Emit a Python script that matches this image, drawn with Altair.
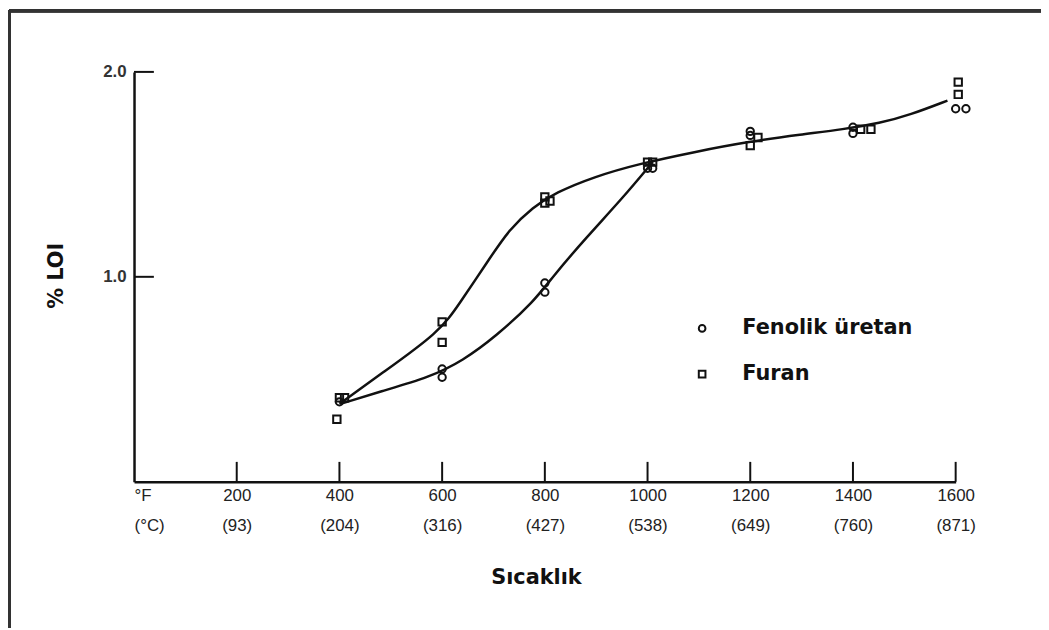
import altair as alt
import pandas as pd

# ---- data ----
fen_pts_x = [400, 600, 600, 800, 800, 1000, 1010, 1200, 1200, 1400, 1400, 1600, 1620]
fen_pts_y = [0.39, 0.55, 0.51, 0.97, 0.925, 1.53, 1.53, 1.71, 1.69, 1.73, 1.70, 1.82, 1.82]
fur_pts_x = [400, 410, 395, 600, 600, 800, 810, 800, 1000, 1010, 1215, 1200, 1415, 1435, 1605, 1605]
fur_pts_y = [0.41, 0.41, 0.305, 0.78, 0.68, 1.39, 1.37, 1.36, 1.56, 1.56, 1.68, 1.64, 1.72, 1.72, 1.95, 1.89]

fur_curve_x = [400, 480, 595, 634, 690, 730, 777, 820, 898, 981, 1092, 1198, 1300, 1381, 1453, 1511, 1584]
fur_curve_y = [0.38, 0.525, 0.73, 0.87, 1.08, 1.23, 1.34, 1.41, 1.49, 1.55, 1.61, 1.66, 1.695, 1.72, 1.75, 1.79, 1.86]
fen_curve_x = [402, 479, 576, 640, 705, 779, 815, 880, 950, 1010]
fen_curve_y = [0.38, 0.44, 0.51, 0.59, 0.71, 0.88, 1.00, 1.19, 1.38, 1.56]

series_names = ["Fenolik üretan", "Furan"]

f_ticks = [0, 200, 400, 600, 800, 1000, 1200, 1400, 1600]
f_labels = ["  °F", "200", "400", "600", "800", "1000", "1200", "1400", "1600"]
c_labels = ["(°C)", "(93)", "(204)", "(316)", "(427)", "(538)", "(649)", "(760)", "(871)"]
y_ticks = [1.0, 2.0]

W, H = 828, 413

pts = pd.DataFrame(
    {"x": fen_pts_x + fur_pts_x,
     "y": fen_pts_y + fur_pts_y,
     "s": [series_names[0]] * len(fen_pts_x) + [series_names[1]] * len(fur_pts_x)}
)
curves = pd.DataFrame(
    {"x": fen_curve_x + fur_curve_x,
     "y": fen_curve_y + fur_curve_y,
     "s": [series_names[0]] * len(fen_curve_x) + [series_names[1]] * len(fur_curve_x)}
)
xt = pd.DataFrame({"x": f_ticks[1:]})
yt = pd.DataFrame({"y": y_ticks})

expr = "''"
for v, a, b in reversed(list(zip(f_ticks, f_labels, c_labels))):
    expr = f"(datum.value == {v} ? ['{a}', '{b}'] : {expr})"

label_font = "Liberation Sans"
title_font = "DejaVu Sans"

xs = alt.Scale(domain=[0, 1600], nice=False, zero=False)
ys = alt.Scale(domain=[0, 2.0], nice=False, zero=False)

x_axis = alt.Axis(
    values=f_ticks, labelExpr=expr, ticks=False, grid=False,
    domainColor="#111", domainWidth=2.5,
    labelFont=label_font, labelFontSize=17, labelColor="#222",
    labelLineHeight=30, labelPadding=6, labelFlush=False,
    labelAlign=alt.condition("datum.value == 0", alt.value("left"), alt.value("center")),
    title="Sıcaklık", titleFont=title_font, titleFontSize=21, titleFontWeight="bold",
    titleColor="#111", titleX=405, titleY=97, titleBaseline="middle", titleAnchor="middle",
)
y_axis = alt.Axis(
    values=y_ticks, format=".1f", ticks=False, grid=False,
    domainColor="#111", domainWidth=2.5,
    labelFont=label_font, labelFontSize=17, labelFontWeight="bold", labelColor="#333",
    labelPadding=8,
    title="% LOI", titleFont=title_font, titleFontSize=21, titleFontWeight="bold",
    titleColor="#111", titleX=-78, titleY=205, titleBaseline="middle", titleAngle=-90,
    titleAnchor="middle",
)

lines = alt.Chart(curves).mark_line(
    color="#111", strokeWidth=2.5, interpolate="basis"
).encode(
    x=alt.X("x:Q", scale=xs, axis=x_axis),
    y=alt.Y("y:Q", scale=ys, axis=y_axis),
    detail="s:N",
)

points = alt.Chart(pts).mark_point(
    filled=False, color="#111", strokeWidth=2, size=55, opacity=1
).encode(
    x=alt.X("x:Q", scale=xs),
    y=alt.Y("y:Q", scale=ys),
    shape=alt.Shape(
        "s:N",
        scale=alt.Scale(domain=series_names, range=["circle", "square"]),
        legend=alt.Legend(
            title=None, orient="none", legendX=562, legendY=248,
            labelFont=title_font, labelFontSize=21, labelFontWeight="bold",
            labelColor="#111", labelOffset=30, rowPadding=24, labelLimit=0,
            symbolSize=45, symbolStrokeColor="#111", symbolFillColor="transparent",
            symbolStrokeWidth=2,
        ),
    ),
)

xticks = alt.Chart(xt).mark_rule(color="#111", strokeWidth=2).encode(
    x=alt.X("x:Q", scale=xs),
    y=alt.value(H),
    y2=alt.value(H - 20),
)
yticks = alt.Chart(yt).mark_rule(color="#111", strokeWidth=2).encode(
    y=alt.Y("y:Q", scale=ys),
    x=alt.value(0),
    x2=alt.value(20),
)

frame_top = alt.Chart(xt).mark_rule(color="#333", strokeWidth=3).encode(
    x=alt.value(-126), x2=alt.value(920), y=alt.value(-61.5)
)
frame_left = alt.Chart(xt).mark_rule(color="#333", strokeWidth=3).encode(
    x=alt.value(-126), y=alt.value(-62), y2=alt.value(570)
)

chart = alt.layer(frame_top, frame_left, lines, xticks, yticks, points).properties(
    width=W, height=H,
    padding={"left": 127, "top": 62, "right": 86, "bottom": 145},
    autosize=alt.AutoSizeParams(type="none"),
).configure_view(stroke=None)

chart.save("out.html", embed_options={"renderer": "svg", "actions": False})
